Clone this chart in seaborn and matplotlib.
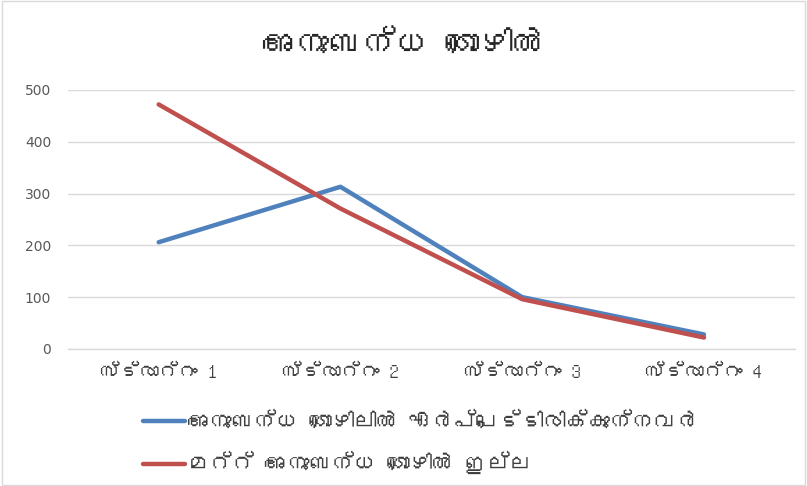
import matplotlib
matplotlib.use("Agg")
import matplotlib.pyplot as plt
import seaborn as sns
import pandas as pd
from matplotlib import font_manager
from matplotlib.ft2font import FT2Font
from matplotlib.patches import Rectangle

title = "അനുബന്ധ തൊഴിൽ"
categories = ["സ്ട്രാറ്റം 1", "സ്ട്രാറ്റം 2", "സ്ട്രാറ്റം 3", "സ്ട്രാറ്റം 4"]
series_names = ["അനുബന്ധ തൊഴിലിൽ ഏർപ്പെട്ടിരിക്കുന്നവർ", "മറ്റ് അനുബന്ധ തൊഴിൽ ഇല്ല"]
engaged = [206, 313, 100, 28]
not_engaged = [472, 271, 96, 22]
y_ticks = [0, 100, 200, 300, 400, 500]
colors = ["#4F81BD", "#C0504D"]


def font_with(ch):
    """Return the name of an installed font that contains the given character."""
    seen = set()
    for f in font_manager.fontManager.ttflist:
        if f.fname in seen:
            continue
        seen.add(f.fname)
        try:
            if ord(ch) in FT2Font(f.fname).get_charmap():
                return f.name
        except Exception:
            pass
    return None


sns.set_theme(style="white")
mal = font_with("അ")
families = ([mal] if mal else []) + ["DejaVu Sans"]
plt.rcParams["font.family"] = families

df = pd.DataFrame({
    "stratum": categories * 2,
    "value": engaged + not_engaged,
    "series": [series_names[0]] * 4 + [series_names[1]] * 4,
})

fig = plt.figure(figsize=(8.07, 4.86), dpi=100)
ax = fig.add_axes([0.084, 0.282, 0.901, 0.533])

sns.lineplot(data=df, x="stratum", y="value", hue="series", palette=colors,
             linewidth=3.2, sort=False, ax=ax, legend=False)

ax.set_xlim(-0.5, 3.5)
ax.set_ylim(0, 500)
ax.set_yticks(y_ticks)
ax.set_yticklabels([str(v) for v in y_ticks], fontsize=10, color="#595959",
                   family="DejaVu Sans")
ax.set_xticks(range(len(categories)))
ax.set_xticklabels(categories, fontsize=14, color="#404040")
ax.tick_params(axis="both", length=0, pad=12)
ax.tick_params(axis="x", pad=10)
ax.set_xlabel("")
ax.set_ylabel("")
ax.grid(axis="y", color="#D9D9D9", linewidth=1)
ax.set_axisbelow(True)
for side in ["left", "right", "top"]:
    ax.spines[side].set_visible(False)
ax.spines["bottom"].set_color("#D9D9D9")
ax.spines["bottom"].set_linewidth(1)

fig.text(0.5, 0.91, title, ha="center", va="center", fontsize=24, color="#262626")

handles = [plt.Line2D([], [], color=c, linewidth=3.2) for c in colors]
leg = fig.legend(handles, series_names, loc="upper left",
                 bbox_to_anchor=(0.177, 0.152), frameon=False, fontsize=16,
                 handlelength=1.9, handletextpad=0.1, labelspacing=0.85,
                 borderaxespad=0, borderpad=0)
for t in leg.get_texts():
    t.set_color("#404040")

fig.patches.append(Rectangle((0.002, 0.002), 0.996, 0.996, transform=fig.transFigure,
                             fill=False, edgecolor="#D9D9D9", linewidth=1))

fig.savefig("out.png", dpi=100)
